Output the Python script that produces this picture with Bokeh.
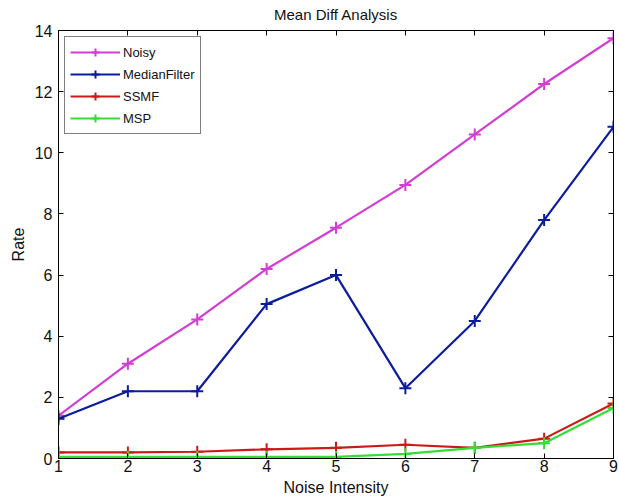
from bokeh.plotting import figure
from bokeh.models import (LinearAxis, Range1d, Legend, LegendItem, FixedTicker,
                          CustomLabelingPolicy)
from bokeh.embed import file_html
from bokeh.resources import INLINE

# Noise intensity levels and mean-difference rates per method
intensity = [1, 2, 3, 4, 5, 6, 7, 8, 9]
noisy = [1.4, 3.1, 4.55, 6.2, 7.55, 8.95, 10.6, 12.25, 13.75]
median_filter = [1.3, 2.2, 2.2, 5.05, 6.0, 2.3, 4.5, 7.8, 10.85]
ssmf = [0.2, 0.2, 0.22, 0.3, 0.35, 0.45, 0.35, 0.65, 1.8]
msp = [0.05, 0.05, 0.05, 0.05, 0.05, 0.15, 0.35, 0.5, 1.65]

x_ticks = [1, 2, 3, 4, 5, 6, 7, 8, 9]
y_ticks = [0, 2, 4, 6, 8, 10, 12, 14]

FONT = "Liberation Sans"

p = figure(width=619, height=504, output_backend="svg", toolbar_location=None,
           x_range=Range1d(1, 9), y_range=Range1d(0, 14),
           min_border_left=58, min_border_right=6, min_border_top=30, min_border_bottom=46)
p.title.text = "Mean Diff Analysis"
p.title.align = "center"
p.title.vertical_align = "top"
p.title.text_font = FONT
p.title.text_font_size = "15px"
p.title.text_font_style = "normal"
p.title.text_color = "#111111"
p.title.offset = 0
p.title.standoff = 4

p.xgrid.visible = False
p.ygrid.visible = False
p.outline_line_color = "black"
p.outline_line_width = 1
p.background_fill_color = "white"
p.border_fill_color = "white"


def style_axis(ax, ticks, show_labels=True):
    ax.ticker = FixedTicker(ticks=ticks)
    ax.major_tick_in = 5
    ax.major_tick_out = 0
    ax.minor_tick_in = 0
    ax.minor_tick_out = 0
    ax.axis_line_color = "black"
    ax.major_tick_line_color = "black"
    ax.major_label_text_font = FONT
    ax.major_label_text_color = "#111111"
    ax.major_label_text_font_size = "16px"
    if not show_labels:
        # box-side axes carry ticks only: keep no labels at all
        ax.major_label_policy = CustomLabelingPolicy(code="return [];")
        ax.major_label_text_font_size = "1px"
        ax.major_label_standoff = 0


style_axis(p.xaxis[0], x_ticks)
style_axis(p.yaxis[0], y_ticks)
p.xaxis[0].axis_label = "Noise Intensity"
p.yaxis[0].axis_label = "Rate"
for ax in (p.xaxis[0], p.yaxis[0]):
    ax.axis_label_text_font = FONT
    ax.axis_label_text_font_size = "16px"
    ax.axis_label_text_font_style = "normal"
    ax.axis_label_text_color = "#111111"
p.xaxis[0].axis_label_standoff = 4
p.yaxis[0].axis_label_standoff = 5
p.xaxis[0].major_label_standoff = 1
p.yaxis[0].major_label_standoff = 6

top = LinearAxis()
style_axis(top, x_ticks, show_labels=False)
p.add_layout(top, "above")
right = LinearAxis()
style_axis(right, y_ticks, show_labels=False)
p.add_layout(right, "right")

series = [
    ("Noisy", noisy, "#d23ed2"),
    ("MedianFilter", median_filter, "#0c1c9e"),
    ("SSMF", ssmf, "#cc1a1a"),
    ("MSP", msp, "#35dd35"),
]

items = []
for name, ys, color in series:
    ln = p.line(intensity, ys, line_color=color, line_width=2.2)
    mk = p.scatter(intensity, ys, marker="cross", size=12, line_color=color, line_width=2)
    items.append(LegendItem(label=name, renderers=[ln, mk]))

legend = Legend(items=items, location="top_left")
legend.label_text_font = FONT
legend.label_text_font_size = "13px"
legend.label_text_color = "#111111"
legend.border_line_color = "black"
legend.border_line_width = 1
legend.glyph_width = 50
legend.glyph_height = 20
legend.label_height = 20
legend.spacing = 2
legend.padding = 5
legend.margin = 6
legend.label_standoff = 3
p.add_layout(legend)

open("out.html", "w").write(file_html(p, INLINE))
